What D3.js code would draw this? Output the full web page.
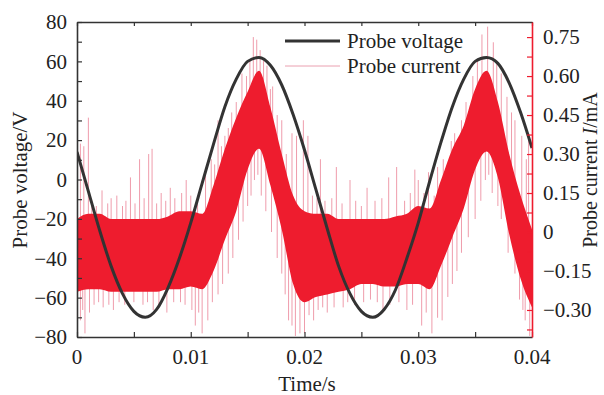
<!DOCTYPE html>
<html>
  <head>
    <style>
      body, html { margin: 0; padding: 0; background: #fff; }
      svg text { font-family: 'Liberation Serif', 'Times New Roman', serif; fill: #222; }
    </style>
  </head>
  <body>
    <svg id="svg" width="604" height="395"></svg>
    <script src="https://cdn.jsdelivr.net/npm/d3@7"></script>
    <script>
      // samples every 1 ms, 0 .. 40 ms
      const timeStep = 0.001;
      const voltage = [14, -6, -26, -44, -58, -67, -70, -66, -55, -40, -22, -2, 18, 37, 51, 60, 62, 58, 48, 33,
        15, -5, -25, -44, -58, -67, -70, -66, -56, -40, -22, -1, 19, 37, 51, 60, 62, 59, 49, 34, 16];
      // dense band of the current signal (mA), upper and lower edge
      const currentHigh = [0.05, 0.07, 0.07, 0.05, 0.05, 0.05, 0.05, 0.05, 0.06, 0.08, 0.08, 0.07, 0.18, 0.32, 0.44,
        0.54, 0.62, 0.48, 0.30, 0.14, 0.08, 0.07, 0.07, 0.05, 0.05, 0.05, 0.05, 0.05, 0.06, 0.07, 0.10, 0.09, 0.20,
        0.32, 0.41, 0.55, 0.62, 0.50, 0.30, 0.14, 0.01];
      const currentLow = [-0.23, -0.22, -0.22, -0.23, -0.23, -0.23, -0.23, -0.23, -0.22, -0.22, -0.21, -0.22, -0.15,
        -0.03, 0.08, 0.24, 0.32, 0.18, 0.01, -0.20, -0.27, -0.25, -0.24, -0.23, -0.22, -0.20, -0.20, -0.21, -0.21,
        -0.20, -0.20, -0.22, -0.13, -0.02, 0.09, 0.24, 0.31, 0.21, -0.01, -0.18, -0.29];
      // isolated spikes of the current: [time s, tip mA]
      const spikesUp = [[0.0003, 0.34], [0.0006, 0.33], [0.0010, 0.44], [0.0013, 0.12], [0.0017, 0.10],
        [0.0022, 0.16], [0.0027, 0.11], [0.0030, 0.13], [0.0035, 0.14], [0.0040, 0.10], [0.0043, 0.12],
        [0.0047, 0.21], [0.0051, 0.11], [0.0055, 0.28], [0.0059, 0.13], [0.0063, 0.30], [0.0066, 0.32],
        [0.0070, 0.11], [0.0074, 0.15], [0.0078, 0.12], [0.0082, 0.17], [0.0086, 0.13], [0.0092, 0.15],
        [0.0096, 0.20], [0.0100, 0.14], [0.0106, 0.12], [0.0113, 0.23], [0.0118, 0.28], [0.0121, 0.26],
        [0.0124, 0.43], [0.0127, 0.33], [0.0130, 0.37], [0.0133, 0.40], [0.0136, 0.46], [0.0140, 0.50],
        [0.0145, 0.61], [0.0149, 0.60], [0.0152, 0.66], [0.0155, 0.75], [0.0158, 0.74], [0.0161, 0.70],
        [0.0164, 0.66], [0.0167, 0.64], [0.0170, 0.55], [0.0172, 0.56], [0.0176, 0.45], [0.0180, 0.43],
        [0.0184, 0.30], [0.0189, 0.38], [0.0193, 0.37], [0.0199, 0.43], [0.0203, 0.37], [0.0207, 0.14],
        [0.0211, 0.13], [0.0214, 0.28], [0.0218, 0.12], [0.0224, 0.13], [0.0228, 0.25], [0.0233, 0.11],
        [0.0240, 0.20], [0.0245, 0.12], [0.0250, 0.10], [0.0255, 0.17], [0.0262, 0.12], [0.0268, 0.13],
        [0.0274, 0.21], [0.0281, 0.25], [0.0288, 0.12], [0.0293, 0.15], [0.0297, 0.24], [0.0300, 0.20],
        [0.0305, 0.15], [0.0309, 0.23], [0.0314, 0.14], [0.0317, 0.25], [0.0322, 0.28], [0.0329, 0.35],
        [0.0332, 0.38], [0.0338, 0.43], [0.0342, 0.50], [0.0348, 0.60], [0.0352, 0.66], [0.0356, 0.76],
        [0.0361, 0.79], [0.0366, 0.73], [0.0369, 0.66], [0.0373, 0.61], [0.0378, 0.52], [0.0382, 0.46],
        [0.0385, 0.43], [0.0391, 0.37], [0.0395, 0.28], [0.0397, 0.38]];
      const spikesDown = [[0.0000, -0.40], [0.0003, -0.34], [0.0005, -0.30], [0.0007, -0.39], [0.0011, -0.31],
        [0.0015, -0.28], [0.0019, -0.27], [0.0023, -0.29], [0.0028, -0.28], [0.0032, -0.30], [0.0037, -0.27],
        [0.0042, -0.28], [0.0050, -0.27], [0.0058, -0.28], [0.0062, -0.27], [0.0067, -0.30], [0.0072, -0.28],
        [0.0079, -0.31], [0.0085, -0.27], [0.0091, -0.27], [0.0095, -0.28], [0.0101, -0.30], [0.0104, -0.36],
        [0.0107, -0.31], [0.0110, -0.39], [0.0115, -0.34], [0.0119, -0.27], [0.0124, -0.24], [0.0128, -0.20],
        [0.0133, -0.16], [0.0137, -0.10], [0.0142, -0.03], [0.0146, 0.04], [0.0150, 0.10], [0.0153, 0.14],
        [0.0156, 0.20], [0.0159, 0.22], [0.0162, 0.14], [0.0166, 0.08], [0.0171, 0.00], [0.0176, -0.10],
        [0.0180, -0.16], [0.0183, -0.24], [0.0186, -0.34], [0.0189, -0.36], [0.0192, -0.40], [0.0196, -0.39],
        [0.0200, -0.39], [0.0204, -0.32], [0.0208, -0.34], [0.0212, -0.30], [0.0216, -0.29], [0.0220, -0.31],
        [0.0226, -0.29], [0.0234, -0.29], [0.0238, -0.27], [0.0244, -0.28], [0.0252, -0.27], [0.0258, -0.26],
        [0.0264, -0.27], [0.0269, -0.31], [0.0275, -0.28], [0.0283, -0.27], [0.0290, -0.30], [0.0295, -0.28],
        [0.0303, -0.36], [0.0307, -0.31], [0.0312, -0.39], [0.0317, -0.33], [0.0321, -0.34], [0.0326, -0.25],
        [0.0330, -0.20], [0.0334, -0.15], [0.0338, -0.08], [0.0344, -0.02], [0.0350, 0.05], [0.0355, 0.12],
        [0.0359, 0.20], [0.0362, 0.22], [0.0365, 0.15], [0.0370, 0.10], [0.0373, 0.05], [0.0379, -0.08],
        [0.0385, -0.16], [0.0389, -0.26], [0.0392, -0.30], [0.0394, -0.34], [0.0398, -0.40]];
      const timeTicks = [0, 0.01, 0.02, 0.03, 0.04];
      const voltageTicks = [-80, -60, -40, -20, 0, 20, 40, 60, 80];
      const currentTicks = [-0.30, -0.15, 0, 0.15, 0.30, 0.45, 0.60, 0.75];

      const mLeft = 77, mRight = 532, mTop = 22, mBottom = 337;
      const axisColor = '#333';
      const red = '#ee1c2e';

      const svg = d3.select('#svg');
      const x = d3.scaleLinear().domain([0, 0.04]).range([mLeft, mRight]);
      const yV = d3.scaleLinear().domain([-80, 80]).range([mBottom, mTop]);
      const yI = d3.scaleLinear().domain([-0.404, 0.808]).range([mBottom, mTop]);

      const rows = voltage.map((v, i) => ({ t: i * timeStep, v, hi: currentHigh[i], lo: currentLow[i] }));
      const centerAt = (t) => {
        const i = Math.min(Math.floor(t / timeStep), rows.length - 2);
        const f = (t - rows[i].t) / timeStep;
        const a = (rows[i].hi + rows[i].lo) / 2, b = (rows[i + 1].hi + rows[i + 1].lo) / 2;
        return a + (b - a) * f;
      };

      svg.append('clipPath').attr('id', 'plot')
        .append('rect').attr('x', mLeft).attr('y', mTop).attr('width', mRight - mLeft).attr('height', mBottom - mTop);
      const plot = svg.append('g').attr('clip-path', 'url(#plot)');

      // spikes behind the dense band
      const spikes = plot.append('g').attr('stroke', '#ec8598').attr('stroke-width', 1).attr('opacity', 0.8);
      spikes.selectAll('line.up').data(spikesUp).join('line').attr('class', 'up')
        .attr('x1', (d) => x(d[0])).attr('x2', (d) => x(d[0]))
        .attr('y1', (d) => yI(centerAt(d[0]))).attr('y2', (d) => yI(d[1]));
      spikes.selectAll('line.down').data(spikesDown).join('line').attr('class', 'down')
        .attr('x1', (d) => x(d[0])).attr('x2', (d) => x(d[0]))
        .attr('y1', (d) => yI(centerAt(d[0]))).attr('y2', (d) => yI(d[1]));

      const band = d3.area()
        .x((d) => x(d.t))
        .y0((d) => yI(d.lo))
        .y1((d) => yI(d.hi))
        .curve(d3.curveMonotoneX);
      plot.append('path').attr('d', band(rows)).attr('fill', red);

      const line = d3.line().x((d) => x(d.t)).y((d) => yV(d.v)).curve(d3.curveMonotoneX);
      plot.append('path').attr('d', line(rows))
        .attr('fill', 'none').attr('stroke', '#333').attr('stroke-width', 3);

      // axes: ticks point inward
      const bottomAxis = d3.axisBottom(x).tickValues(d3.range(0, 0.0401, 0.005)).tickSize(-5).tickSizeOuter(0).tickFormat('');
      const topAxis = d3.axisTop(x).tickValues(d3.range(0, 0.0401, 0.005)).tickSize(-4).tickSizeOuter(0).tickFormat('');
      const leftAxis = d3.axisLeft(yV).tickValues(d3.range(-80, 81, 10)).tickSize(-5).tickSizeOuter(0).tickFormat('');
      const rightAxis = d3.axisRight(yI).tickValues(d3.range(-0.375, 0.80, 0.075)).tickSize(-5).tickSizeOuter(0).tickFormat('');

      const styleAxis = (g, color) => {
        g.select('.domain').attr('stroke', color).attr('stroke-width', 1.6);
        g.selectAll('.tick line').attr('stroke', color).attr('stroke-width', 1.2);
      };
      svg.append('g').attr('transform', `translate(0,${mBottom})`).call(bottomAxis).call(styleAxis, axisColor);
      svg.append('g').attr('transform', `translate(0,${mTop})`).call(topAxis).call(styleAxis, axisColor);
      svg.append('g').attr('transform', `translate(${mLeft},0)`).call(leftAxis).call(styleAxis, axisColor);
      svg.append('g').attr('transform', `translate(${mRight},0)`).call(rightAxis).call(styleAxis, red);

      const fmt = (v) => (v < 0 ? '\u2212' + Math.abs(v) : '' + v);
      svg.append('g').selectAll('text').data(timeTicks).join('text')
        .attr('x', (d) => x(d)).attr('y', 364).attr('text-anchor', 'middle').attr('font-size', 21)
        .text((d) => (d === 0 ? '0' : d.toFixed(2)));
      svg.append('g').selectAll('text').data(voltageTicks).join('text')
        .attr('x', 67).attr('y', (d) => yV(d)).attr('dy', '0.35em').attr('text-anchor', 'end').attr('font-size', 21)
        .text(fmt);
      svg.append('g').selectAll('text').data(currentTicks).join('text')
        .attr('x', 543).attr('y', (d) => yI(d)).attr('dy', '0.35em').attr('font-size', 21)
        .text((d) => (d === 0 ? '0' : (d < 0 ? '\u2212' : '') + Math.abs(d).toFixed(2)));

      svg.append('text').attr('x', 307).attr('y', 391).attr('text-anchor', 'middle').attr('font-size', 21).text('Time/s');
      svg.append('text').attr('transform', 'translate(27,180) rotate(-90)').attr('text-anchor', 'middle')
        .attr('font-size', 21).text('Probe voltage/V');
      const rl = svg.append('text').attr('transform', 'translate(597,170) rotate(-90)').attr('text-anchor', 'middle')
        .attr('font-size', 20);
      rl.append('tspan').text('Probe current ');
      rl.append('tspan').attr('font-style', 'italic').text('I');
      rl.append('tspan').text('/mA');

      // legend
      const legend = svg.append('g');
      legend.append('line').attr('x1', 285).attr('x2', 340).attr('y1', 41).attr('y2', 41)
        .attr('stroke', '#333').attr('stroke-width', 3);
      legend.append('line').attr('x1', 285).attr('x2', 340).attr('y1', 66).attr('y2', 66)
        .attr('stroke', '#eaa0b0').attr('stroke-width', 1);
      legend.append('text').attr('x', 347).attr('y', 41).attr('dy', '0.35em').attr('font-size', 21).text('Probe voltage');
      legend.append('text').attr('x', 347).attr('y', 66).attr('dy', '0.35em').attr('font-size', 21).text('Probe current');
    </script>
  </body>
</html>
